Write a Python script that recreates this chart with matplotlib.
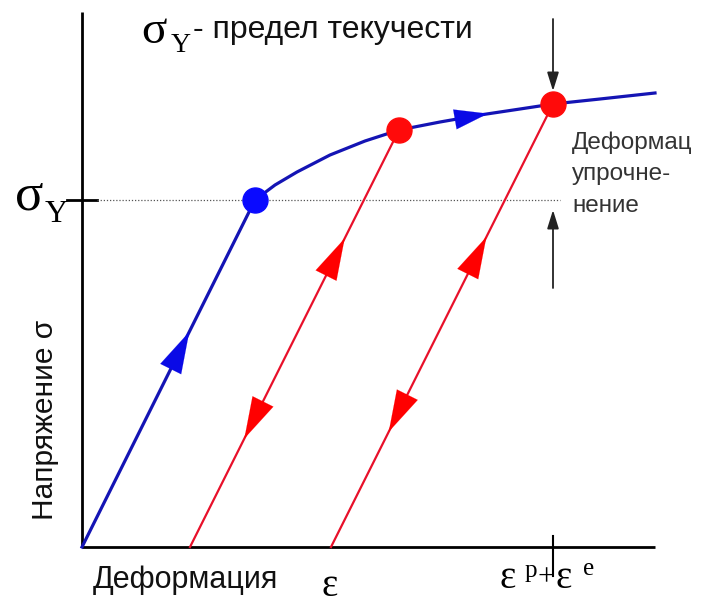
import numpy as np
import matplotlib
matplotlib.use("Agg")
import matplotlib.pyplot as plt


# =========================
# DATA (strain / stress, arbitrary units)
# =========================
load_strain = [0.0, 1.73, 1.93, 2.15, 2.48, 2.83, 3.17, 3.58, 3.98, 4.38, 4.71, 5.18, 5.73]
load_stress = [0.0, 3.47, 3.62, 3.75, 3.92, 4.06, 4.17, 4.25, 4.32, 4.38, 4.43, 4.48, 4.54]

unload1_strain = [1.08, 3.17]
unload1_stress = [0.0, 4.17]
unload2_strain = [2.49, 4.71]
unload2_stress = [0.0, 4.43]

yield_point = (1.73, 3.47)          # blue dot
reload_points = [(3.17, 4.17), (4.71, 4.43)]   # red dots
sigma_y = 3.47
eps_total = 4.71

# arrow positions as fractions along each segment
blue_arrow_frac = 0.62
red_up_frac = [0.74, 0.70]
red_down_frac = [0.26, 0.26]

BLUE = "#1414b4"
RED = "#e8102a"
RED_DOT = "#ff0a0a"
BLUE_DOT = "#0a0aff"


def along(x, y, f):
    return x[0] + f * (x[1] - x[0]), y[0] + f * (y[1] - y[0])


def head(ax, xs, ys, f, color, direction=1, hl=1.35, hw=0.38, ms=22):
    # filled arrow head sitting on a straight segment at fraction f
    tip = np.array(along(xs, ys, f))
    d = np.array([xs[1] - xs[0], ys[1] - ys[0]], dtype=float)
    d = d / np.hypot(*d) * direction
    tail = tip - d * 0.4
    ax.annotate("", xy=tip, xytext=tail,
                arrowprops=dict(arrowstyle=f"-|>,head_length={hl},head_width={hw}",
                                color=color, lw=0.1, shrinkA=0, shrinkB=0,
                                mutation_scale=ms))


fig = plt.figure(figsize=(7.01, 6.06), dpi=100)
ax = fig.add_axes([0, 0, 1, 1])
ax.set_xlim(-0.82, 6.19)
ax.set_ylim(-0.59, 5.47)
ax.axis("off")

# axes
ax.plot([0, 0], [0, 5.35], color="black", lw=2.0, solid_capstyle="butt")
ax.plot([0, 5.73], [0, 0], color="black", lw=2.0, solid_capstyle="butt")
ax.plot([-0.15, 0.15], [sigma_y, sigma_y], color="black", lw=2.0)
ax.plot([eps_total, eps_total], [0.11, -0.29], color="black", lw=1.5)

# yield level dotted line
ax.plot([0.15, 4.78], [sigma_y, sigma_y], color="#555555", lw=0.9, ls=(0, (1, 1.5)))

# curves
ax.plot(load_strain, load_stress, color=BLUE, lw=2.3, zorder=3)
ax.plot(unload1_strain, unload1_stress, color=RED, lw=1.6, zorder=3)
ax.plot(unload2_strain, unload2_stress, color=RED, lw=1.6, zorder=3)

# arrow heads
head(ax, [0.0, yield_point[0]], [0.0, yield_point[1]], blue_arrow_frac, "#0a0ae6")
head(ax, load_strain[7:9], load_stress[7:9], 1.2, "#0a0ae6", hl=1.2, hw=0.36, ms=20)
for (xs, ys), fu, fd in zip([(unload1_strain, unload1_stress), (unload2_strain, unload2_stress)],
                            red_up_frac, red_down_frac):
    head(ax, xs, ys, fu, "#ff0000", 1)
    head(ax, xs, ys, fd, "#ff0000", -1)

# dots
ax.plot(*yield_point, "o", color=BLUE_DOT, ms=18, zorder=5)
for p in reload_points:
    ax.plot(*p, "o", color=RED_DOT, ms=18, zorder=5)

# hardening arrows
ax.annotate("", xy=(eps_total, 4.56), xytext=(eps_total, 5.28),
            arrowprops=dict(arrowstyle="-|>,head_length=0.8,head_width=0.25",
                            color="#222222", lw=1.3, shrinkA=0, shrinkB=0, mutation_scale=14))
ax.annotate("", xy=(eps_total, 3.37), xytext=(eps_total, 2.59),
            arrowprops=dict(arrowstyle="-|>,head_length=0.8,head_width=0.25",
                            color="#222222", lw=1.3, shrinkA=0, shrinkB=0, mutation_scale=14))

# texts
serif = ["Liberation Serif", "DejaVu Serif"]
sans = ["Liberation Sans", "DejaVu Sans"]

ax.text(0.72, 5.15, "σ", family=serif, fontsize=34, ha="center", va="center")
ax.text(0.99, 5.01, "Y", family=serif, fontsize=20, ha="center", va="center")
ax.text(1.11, 5.17, "- предел текучести", family=sans, fontsize=23, ha="left", va="center",
        color="#111111")

ax.text(-0.53, 3.50, "σ", family=serif, fontsize=38, ha="center", va="center")
ax.text(-0.26, 3.33, "Y", family=serif, fontsize=23, ha="center", va="center")

ax.text(-0.37, 1.27, "Напряжение σ", family=sans, fontsize=21.5,
        rotation=90, ha="center", va="center", color="#111111")

ax.text(0.11, -0.33, "Деформация", family=sans, fontsize=22, ha="left", va="center",
        color="#111111")
ax.text(2.48, -0.39, "ε", family=serif, fontsize=28, ha="center", va="center")
ax.text(4.18, -0.32, "ε", family=serif, fontsize=28, ha="left", va="center")
ax.text(4.43, -0.24, "p", family=serif, fontsize=18, ha="left", va="center")
ax.text(4.56, -0.31, "+", family=serif, fontsize=22, ha="left", va="center")
ax.text(4.74, -0.32, "ε", family=serif, fontsize=28, ha="left", va="center")
ax.text(5.01, -0.22, "e", family=serif, fontsize=18, ha="left", va="center")

ax.text(4.90, 3.73, "Деформац\nупрочне-\nнение", family=sans, fontsize=17.5, ha="left",
        va="center", linespacing=1.55, color="#333333")

fig.savefig("out.png", dpi=100)
